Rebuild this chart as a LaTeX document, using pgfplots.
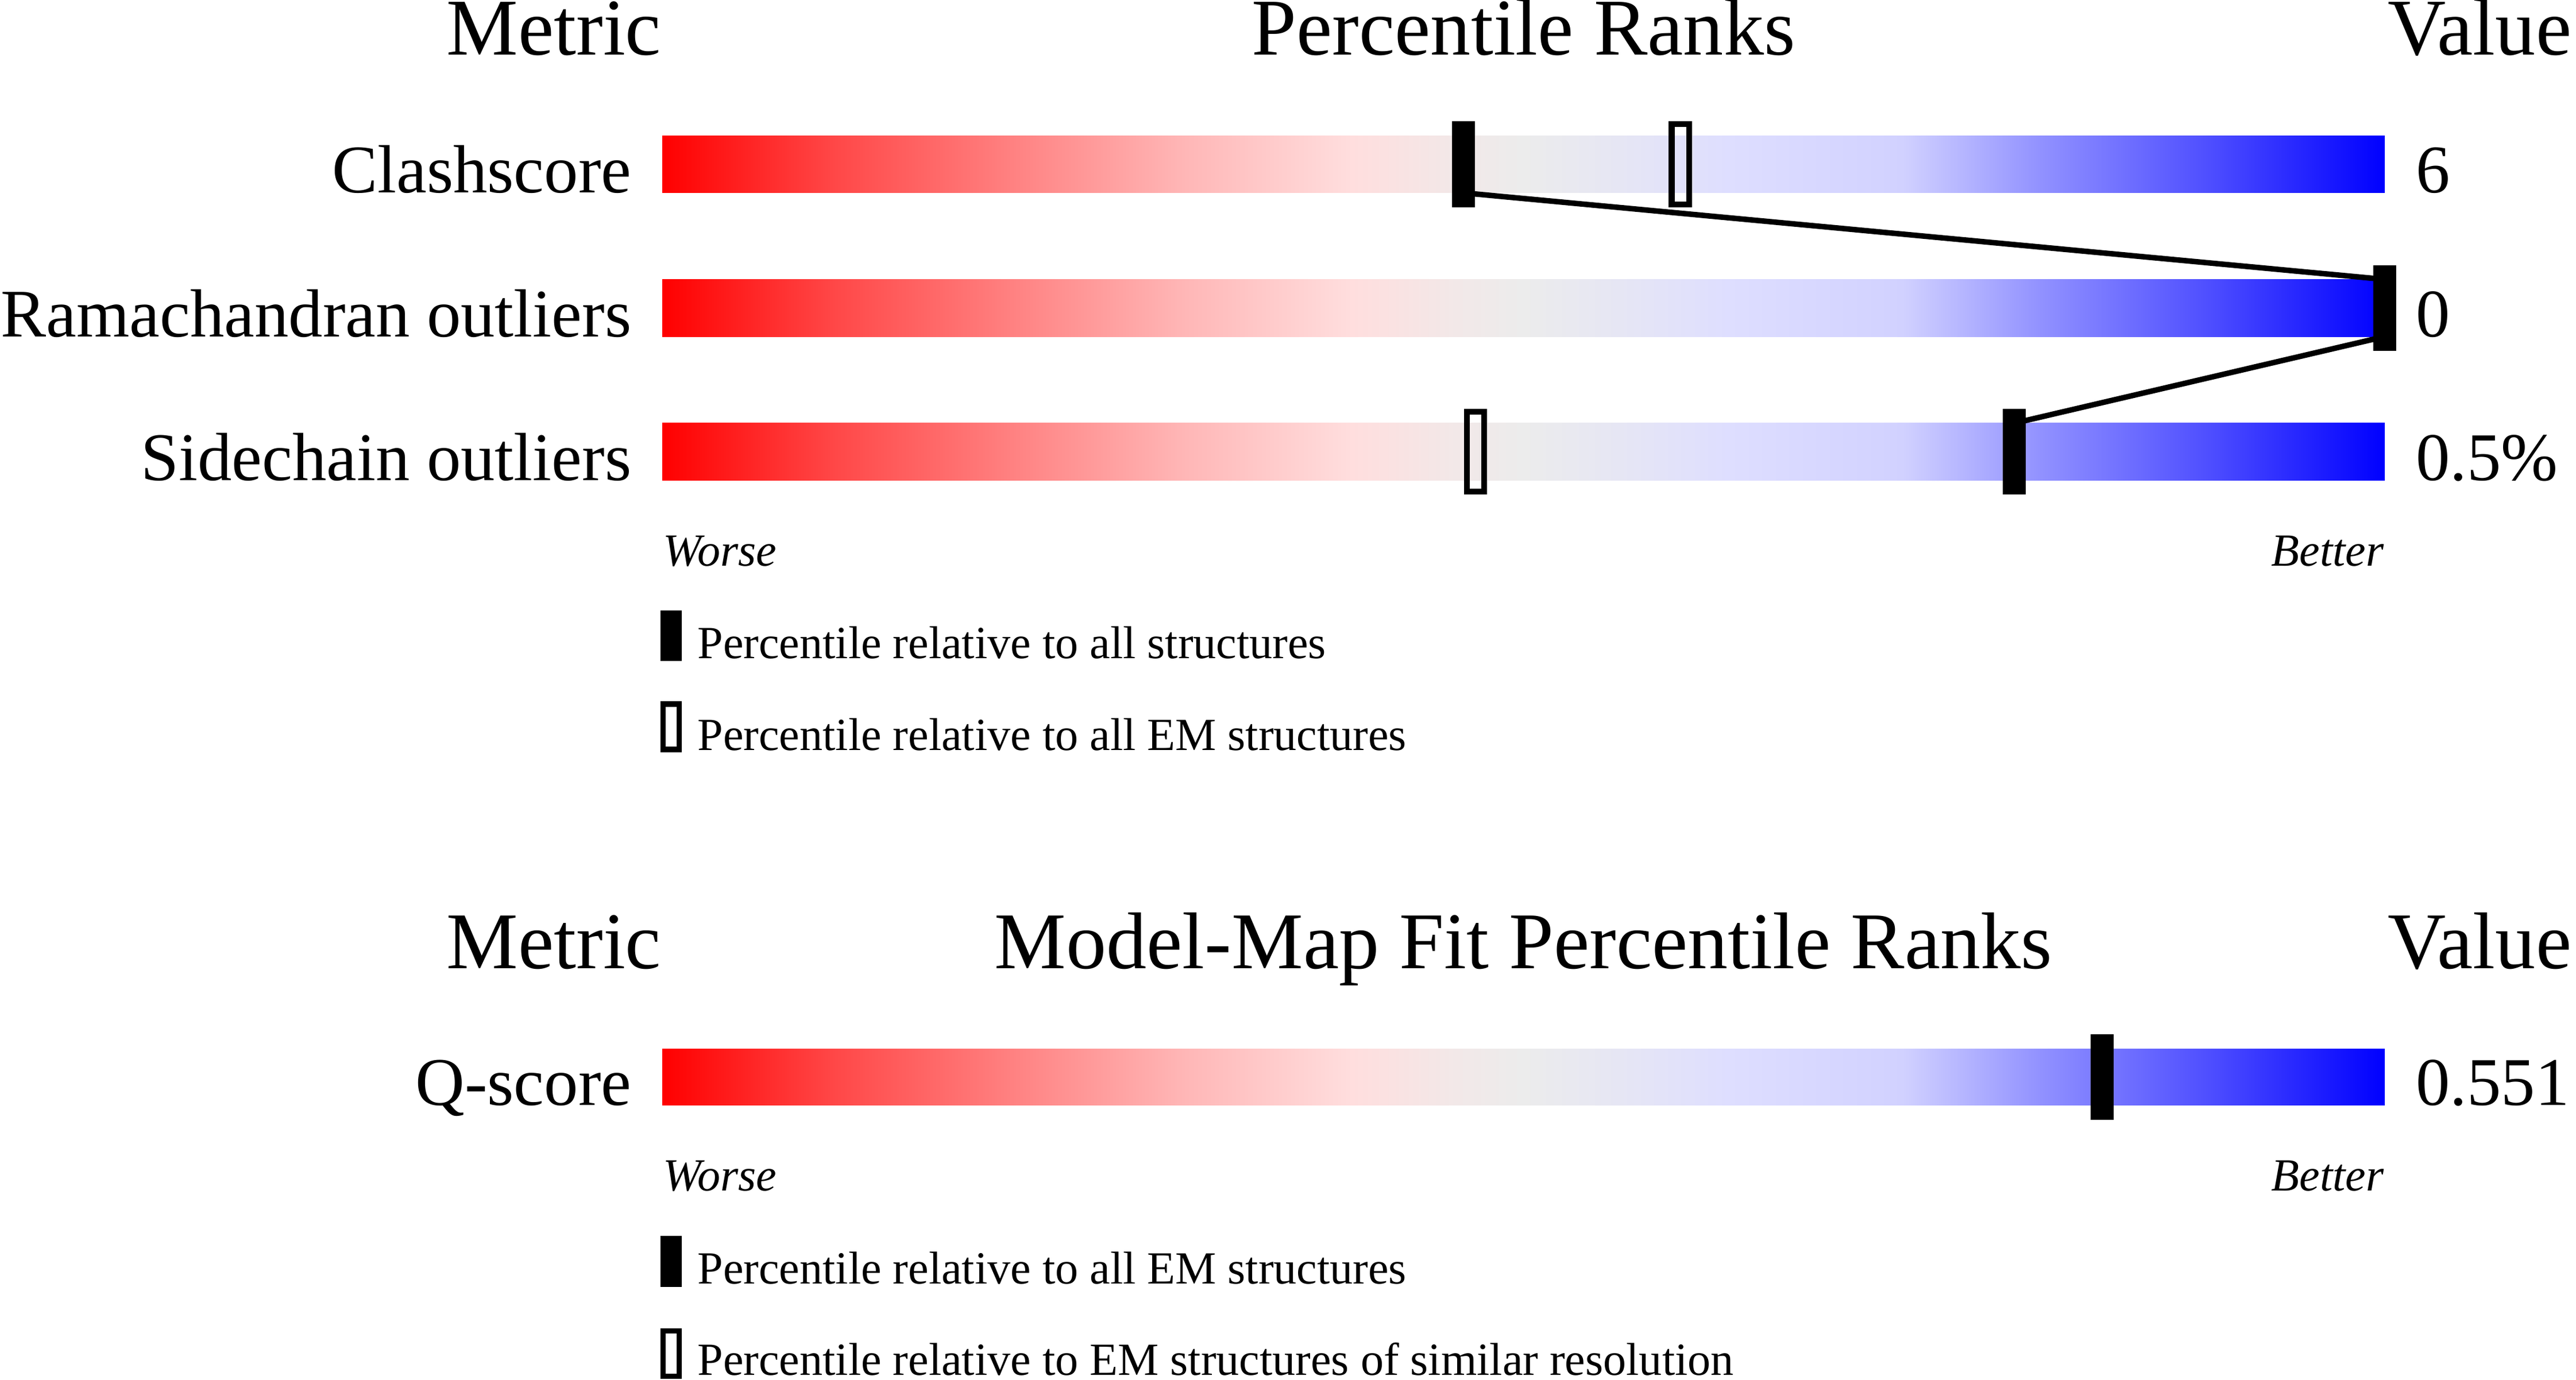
\documentclass[border=0pt]{standalone}
\usepackage{fontspec}
\setmainfont{Liberation Serif}
\usepackage{pgfplots}
\pgfplotsset{compat=1.18}

% red -> grey -> blue slider; TikZ maps the path onto 25bp..75bp
\pgfdeclarehorizontalshading{rankgrad}{100bp}{
  rgb(0bp)=(1,0,0); rgb(25bp)=(1,0,0);
  rgb(30bp)=(1,0.28,0.28);
  rgb(35bp)=(1,0.50,0.50);
  rgb(40bp)=(1,0.71,0.71);
  rgb(45bp)=(1,0.87,0.87);
  rgb(48bp)=(0.95,0.91,0.91);
  rgb(50bp)=(0.925,0.925,0.925);
  rgb(53bp)=(0.90,0.90,0.96);
  rgb(56bp)=(0.87,0.87,1);
  rgb(61bp)=(0.82,0.82,1);
  rgb(65bp)=(0.57,0.57,1);
  rgb(70bp)=(0.30,0.30,1);
  rgb(75bp)=(0,0,1); rgb(100bp)=(0,0,1)}

\pgfdeclareplotmark{rankfull}{%
  \pgfpathrectangle{\pgfqpoint{-2.1pt}{-7.83pt}}{\pgfqpoint{4.2pt}{15.66pt}}%
  \pgfusepathqfill}
\pgfdeclareplotmark{rankopen}{%
  \pgfsetlinewidth{1.05pt}%
  \pgfpathrectangle{\pgfqpoint{-1.575pt}{-7.305pt}}{\pgfqpoint{3.15pt}{14.61pt}}%
  \pgfusepathqstroke}
\pgfdeclareplotmark{keyfull}{%
  \pgfpathrectangle{\pgfqpoint{-1.95pt}{-4.65pt}}{\pgfqpoint{3.9pt}{9.3pt}}%
  \pgfusepathqfill}
\pgfdeclareplotmark{keyopen}{%
  \pgfsetlinewidth{1pt}%
  \pgfpathrectangle{\pgfqpoint{-1.45pt}{-4.15pt}}{\pgfqpoint{2.9pt}{8.3pt}}%
  \pgfsetfillcolor{white}\pgfusepathqfillstroke}

\newcommand{\head}{\fontsize{14.7}{17}\selectfont}
\newcommand{\lab}{\fontsize{12.45}{14}\selectfont}
\newcommand{\sml}{\fontsize{8.4}{10}\selectfont}

\begin{document}
\begin{tikzpicture}
\begin{axis}[
    width=470.4pt, height=252pt,
    scale only axis,
    hide axis,
    clip=false,
    xmin=-38.446, xmax=111.10,
    ymin=0, ymax=840,
    y dir=reverse,
    nodes={inner sep=0pt},
]
% gradient bars
\addplot[draw=none, shade, shading=rankgrad] coordinates {(0,82.6) (100,82.6) (100,117.4) (0,117.4)} -- cycle;
\addplot[draw=none, shade, shading=rankgrad] coordinates {(0,170.1) (100,170.1) (100,204.9) (0,204.9)} -- cycle;
\addplot[draw=none, shade, shading=rankgrad] coordinates {(0,257.6) (100,257.6) (100,292.4) (0,292.4)} -- cycle;
\addplot[draw=none, shade, shading=rankgrad] coordinates {(0,638.4) (100,638.4) (100,673.0) (0,673.0)} -- cycle;

% line joining the all-structures percentiles
\addplot[black, line width=1pt] coordinates {(46.5,117.4) (100,170.1)};
\addplot[black, line width=1pt] coordinates {(100,204.9) (78.5,257.6)};

% percentile relative to all structures
\addplot[only marks, mark=rankfull, black] coordinates {(46.5,100.0) (100,187.5) (78.5,275.0)};
% percentile relative to all EM structures
\addplot[only marks, mark=rankopen, black] coordinates {(59.1,100.0) (47.2,275.0)};
% Q-score, relative to all EM structures
\addplot[only marks, mark=rankfull, black] coordinates {(83.6,655.7)};

% legend glyphs
\addplot[only marks, mark=keyfull, black] coordinates {(0.515,387) (0.515,768)};
\addplot[only marks, mark=keyopen, black] coordinates {(0.515,442.5) (0.515,824)};

% headers
\node[anchor=base east, font=\head] at (axis cs:0,33.5) {Metric};
\node[anchor=base, font=\head] at (axis cs:50,33.5) {Percentile Ranks};
\node[anchor=base west, font=\head] at (axis cs:100.13,33.5) {Value};
\node[anchor=base east, font=\head] at (axis cs:0,589.5) {Metric};
\node[anchor=base, font=\head] at (axis cs:50,589.5) {Model-Map Fit Percentile Ranks};
\node[anchor=base west, font=\head] at (axis cs:100.13,589.5) {Value};

% row labels and values
\node[anchor=base east, font=\lab] at (axis cs:-1.73,117.4) {Clashscore};
\node[anchor=base east, font=\lab] at (axis cs:-1.73,204.9) {Ramachandran outliers};
\node[anchor=base east, font=\lab] at (axis cs:-1.73,292.4) {Sidechain outliers};
\node[anchor=base east, font=\lab] at (axis cs:-1.73,673.0) {Q-score};
\node[anchor=base west, font=\lab] at (axis cs:101.75,117.4) {6};
\node[anchor=base west, font=\lab] at (axis cs:101.75,204.9) {0};
\node[anchor=base west, font=\lab] at (axis cs:101.75,292.4) {0.5\%};
\node[anchor=base west, font=\lab] at (axis cs:101.75,673.0) {0.551};

% worse / better
\node[anchor=base west, font=\sml\itshape] at (axis cs:0,344.7) {Worse};
\node[anchor=base east, font=\sml\itshape] at (axis cs:100,344.7) {Better};
\node[anchor=base west, font=\sml\itshape] at (axis cs:0,725) {Worse};
\node[anchor=base east, font=\sml\itshape] at (axis cs:100,725) {Better};

% legend texts
\node[anchor=base west, font=\sml] at (axis cs:1.99,400.7) {Percentile relative to all structures};
\node[anchor=base west, font=\sml] at (axis cs:1.99,456.6) {Percentile relative to all EM structures};
\node[anchor=base west, font=\sml] at (axis cs:1.99,781.7) {Percentile relative to all EM structures};
\node[anchor=base west, font=\sml] at (axis cs:1.99,837.3) {Percentile relative to EM structures of similar resolution};
\end{axis}
\pgfresetboundingbox
\useasboundingbox (current axis.south west) rectangle (current axis.north east);
\end{tikzpicture}
\end{document}
